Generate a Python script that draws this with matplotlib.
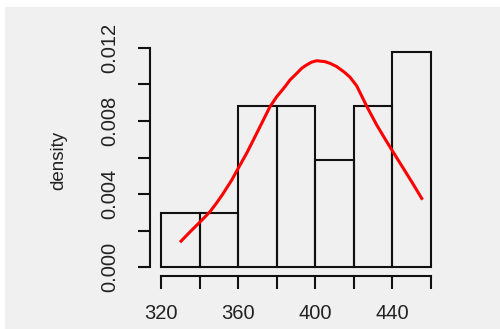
import numpy as np
import matplotlib
matplotlib.use("Agg")
import matplotlib.pyplot as plt
from matplotlib.patches import Rectangle

plt.rcParams['font.family'] = ['Liberation Sans', 'DejaVu Sans']

# histogram (density scale), bins of width 20
bin_edges = [320, 340, 360, 380, 400, 420, 440, 460]
counts = [2, 2, 6, 6, 4, 6, 8]
n_total = sum(counts)

# red density curve
curve_x = [330.4, 335.0, 341.1, 345.4, 348.9, 352.3, 356.7, 361.0, 364.4,
           367.9, 372.2, 376.5, 380.0, 384.3, 386.9, 390.4, 393.0, 395.5,
           398.0, 400.7, 405.0, 407.6, 411.1, 415.0, 418.0, 421.5, 426.7,
           431.8, 436.1, 439.6, 443.5, 447.4, 450.8, 455.2]
curve_y = [0.00142, 0.00192, 0.00256, 0.00303, 0.00352, 0.00404, 0.00477,
           0.00559, 0.00623, 0.00696, 0.00787, 0.00878, 0.00933, 0.00988,
           0.01025, 0.01061, 0.01089, 0.01107, 0.01122, 0.01130, 0.01125,
           0.01116, 0.01098, 0.01068, 0.01040, 0.00992, 0.00880, 0.00779,
           0.00703, 0.00643, 0.00577, 0.00511, 0.00453, 0.00376]

x_ticks = [320, 340, 360, 380, 400, 420, 440, 460]
x_ticklabels = ['320', '', '360', '', '400', '', '440', '']
y_ticks = [0.000, 0.002, 0.004, 0.006, 0.008, 0.010, 0.012]
y_ticklabels = ['0.000', '', '0.004', '', '0.008', '', '0.012']

W, H = 500, 329
fig = plt.figure(figsize=(W / 100, H / 100), dpi=100)
fig.patch.set_facecolor('white')
bg = '#f0f0f0'
fig.patches.append(Rectangle((5 / W, 0), 1, 1 - 7 / H, transform=fig.transFigure,
                             facecolor=bg, edgecolor='none', zorder=-10))

# plot region in pixels (R adds 4% on each side)
left, right, top, bottom = 150.2, 441.8, 39.2, 275.8
ax = fig.add_axes([left / W, 1 - bottom / H, (right - left) / W, (bottom - top) / H])
ax.set_facecolor('none')

widths = np.diff(bin_edges)
dens = np.array(counts) / (n_total * widths)
ax.bar(bin_edges[:-1], dens, width=widths, align='edge', facecolor='none',
       edgecolor='#111111', linewidth=1.5)
ax.plot(curve_x, curve_y, color='red', linewidth=2.2, solid_joinstyle='round')

ax.set_xlim(314.4, 465.6)
ax.set_ylim(-0.00048, 0.01248)

for s in ['top', 'right']:
    ax.spines[s].set_visible(False)
ax.spines['left'].set_bounds(0, 0.012)
ax.spines['bottom'].set_bounds(320, 460)
for s in ['left', 'bottom']:
    ax.spines[s].set_linewidth(1.5)
    ax.spines[s].set_color('#111111')

ax.set_xticks(x_ticks)
ax.set_xticklabels(x_ticklabels, fontsize=14.5, color='#222222')
ax.set_yticks(y_ticks)
ax.set_yticklabels(y_ticklabels, fontsize=14.5, rotation=90, va='center', color='#222222')
ax.tick_params(axis='both', direction='out', length=9, width=1.5, color='#111111')
ax.tick_params(axis='x', pad=11)
ax.tick_params(axis='y', pad=13)

fig.text(59 / W, 1 - 160 / H, 'density', rotation=90, ha='center', va='center',
         fontsize=13.5, color='#222222')

plt.savefig('out.png', dpi=100, facecolor=fig.get_facecolor())
plt.close()
